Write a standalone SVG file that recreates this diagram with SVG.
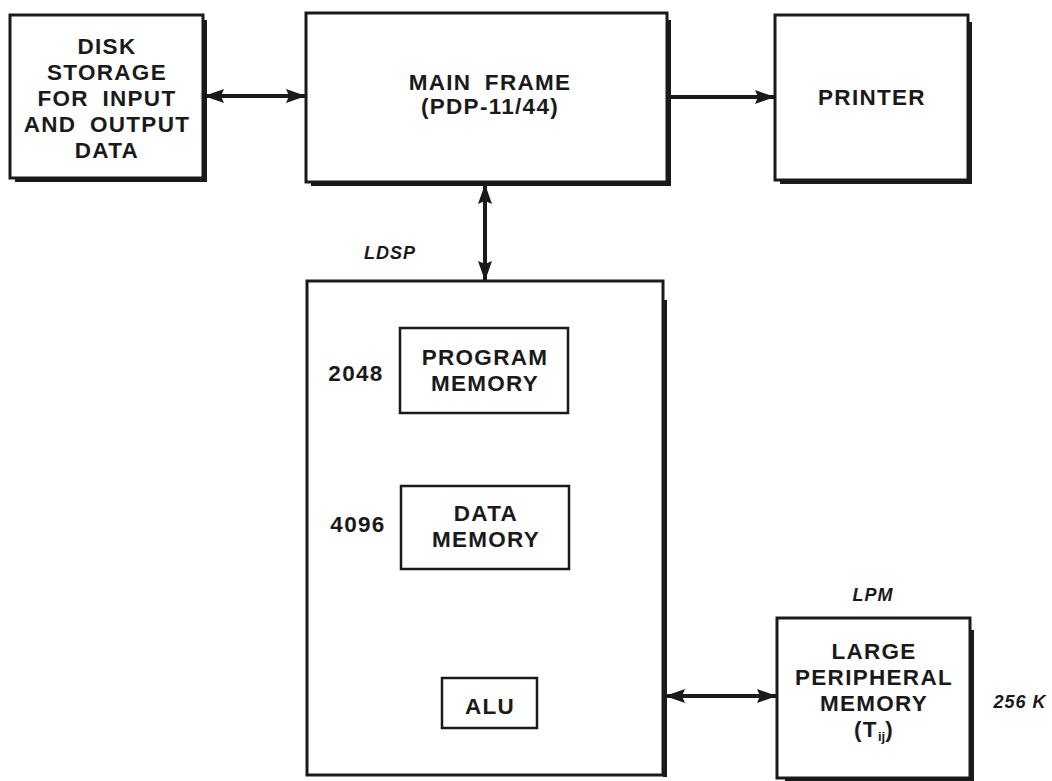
<svg xmlns="http://www.w3.org/2000/svg" width="1052" height="781" viewBox="0 0 1052 781">
<style>
.box{fill:#fff;stroke:#1a1a1a;stroke-width:3}
.shadow{fill:none;stroke:#1a1a1a;stroke-width:4}
.inner{fill:#fff;stroke:#1a1a1a;stroke-width:2.5}
.t{font-family:"Liberation Sans",Arial,sans-serif;font-weight:bold;font-size:22.5px;fill:#1a1a1a;text-anchor:middle;letter-spacing:1.3px;word-spacing:6px}
.it{font-family:"Liberation Sans",Arial,sans-serif;font-weight:bold;font-style:italic;font-size:18px;fill:#1a1a1a;text-anchor:middle;letter-spacing:1px}
.c{stroke:#1a1a1a;stroke-width:4;fill:none}
</style>
<defs>
<marker id="ah" viewBox="0 0 20 14" refX="19" refY="7" markerWidth="20" markerHeight="14" markerUnits="userSpaceOnUse" orient="auto-start-reverse">
<path d="M0,0 L20,7 L0,14 L3,7 Z" fill="#1a1a1a"/>
</marker>
</defs>
<rect width="1052" height="781" fill="#fff"/>

<g id="connectors">
<line class="c" x1="205" y1="96" x2="305" y2="96" marker-start="url(#ah)" marker-end="url(#ah)"/>
<line class="c" x1="670" y1="97" x2="774" y2="97" marker-end="url(#ah)"/>
<line class="c" x1="485" y1="185" x2="485" y2="280" marker-start="url(#ah)" marker-end="url(#ah)"/>
<line class="c" x1="486" y1="571" x2="486" y2="677" marker-start="url(#ah)" marker-end="url(#ah)"/>
<line class="c" x1="666" y1="696" x2="776" y2="696" marker-start="url(#ah)" marker-end="url(#ah)"/>
</g>

<g id="disk">
<polyline class="shadow" points="205,20 205,180 15,180"/>
<rect class="box" x="10" y="15" width="193" height="163"/>
<text class="t" x="107" y="54">DISK</text>
<text class="t" x="107" y="80">STORAGE</text>
<text class="t" x="107" y="106">FOR INPUT</text>
<text class="t" x="107" y="132">AND OUTPUT</text>
<text class="t" x="107" y="158">DATA</text>
</g>

<g id="mainframe">
<polyline class="shadow" points="669,20 669,184 311,184"/>
<rect class="box" x="306" y="13" width="361" height="169"/>
<text class="t" x="490" y="90">MAIN FRAME</text>
<text class="t" x="490" y="114">(PDP-11/44)</text>
</g>

<g id="printer">
<polyline class="shadow" points="970,22 970,182 780,182"/>
<rect class="box" x="775" y="15" width="193" height="165"/>
<text class="t" x="872" y="105">PRINTER</text>
</g>

<g id="ldsp">
<polyline class="shadow" points="665,300 665,777"/>
<rect class="box" x="307" y="281" width="356" height="494"/>
<text class="it" x="390" y="259">LDSP</text>
</g>

<g id="progmem">
<rect class="inner" x="400" y="328" width="168" height="85"/>
<text class="t" x="485" y="365">PROGRAM</text>
<text class="t" x="485" y="391">MEMORY</text>
<text class="t" x="356" y="381">2048</text>
</g>

<g id="datamem">
<rect class="inner" x="401" y="486" width="168" height="83"/>
<text class="t" x="486" y="521">DATA</text>
<text class="t" x="486" y="547">MEMORY</text>
<text class="t" x="358" y="532">4096</text>
</g>

<g id="alu">
<rect class="inner" x="442" y="678" width="95" height="50"/>
<text class="t" x="490" y="714">ALU</text>
</g>

<g id="lpm">
<polyline class="shadow" points="972,630 972,780 785,780"/>
<rect class="box" x="777" y="618" width="193" height="160"/>
<text class="it" x="873" y="601">LPM</text>
<text class="t" x="874" y="659">LARGE</text>
<text class="t" x="874" y="685">PERIPHERAL</text>
<text class="t" x="874" y="711">MEMORY</text>
<text class="t" x="874" y="737">(T<tspan font-size="13" letter-spacing="0" dy="4">ij</tspan><tspan dy="-4">)</tspan></text>
<text class="it" x="1020" y="708">256 K</text>
</g>
</svg>
